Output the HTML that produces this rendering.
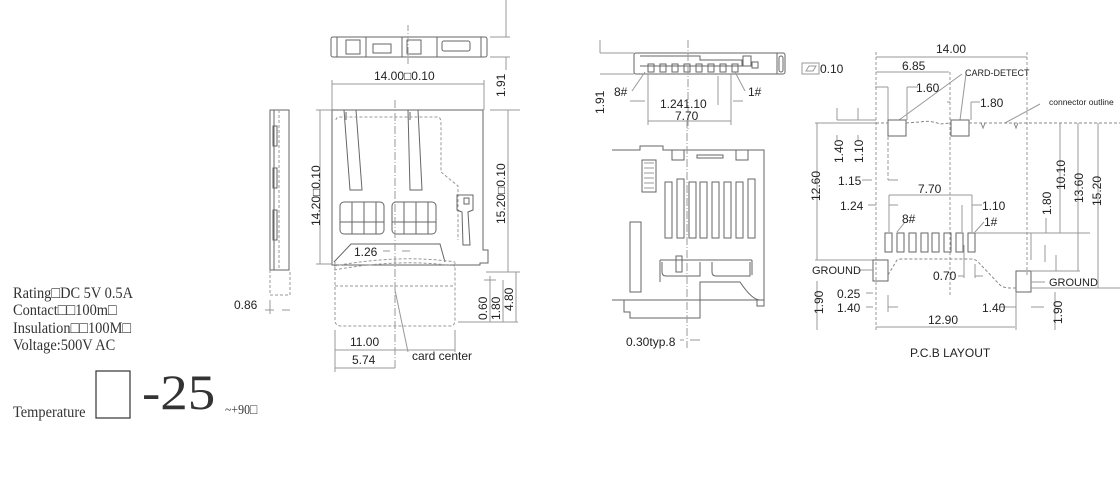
<!DOCTYPE html>
<html><head><meta charset="utf-8"><style>
html,body{margin:0;padding:0;background:#fff;}
svg{display:block}
.t{font-family:"Liberation Sans",sans-serif;font-size:12px;fill:#222}
.s{font-family:"Liberation Serif","Noto Serif CJK SC",serif;fill:#333}
</style></head><body>
<svg width="1120" height="492" viewBox="0 0 1120 492" xmlns="http://www.w3.org/2000/svg">
<g fill="none" stroke="#666" stroke-width="1">
<rect x="331" y="37" width="156" height="20" rx="2"/>
<line x1="337" y1="37" x2="337" y2="57"/><line x1="481" y1="37" x2="481" y2="57"/>
<rect x="346" y="40" width="14" height="14"/><rect x="373" y="44" width="18" height="9"/>
<rect x="407" y="40" width="14" height="14"/><rect x="442" y="41" width="28" height="10" rx="2"/>
<line x1="366" y1="37" x2="366" y2="57"/><line x1="402" y1="37" x2="402" y2="57"/><line x1="437" y1="37" x2="437" y2="57"/>
<line x1="408" y1="25" x2="408" y2="65" stroke-dasharray="6,2,1,2" stroke="#999"/>
<line x1="490" y1="37" x2="510" y2="37" stroke="#999"/><line x1="490" y1="57" x2="510" y2="57" stroke="#999"/>
<line x1="506" y1="0" x2="506" y2="37" stroke="#999"/><line x1="506" y1="57" x2="506" y2="70" stroke="#999"/>
<line x1="332" y1="84" x2="484" y2="84" stroke="#999"/>
<line x1="332" y1="80" x2="332" y2="110" stroke="#999"/><line x1="484" y1="80" x2="484" y2="110" stroke="#999"/>
<path d="M332 110 L483 110 L483 250 L488 250 L488 263 L480 263 L480 265 L332 265 Z"/>
<path d="M344 110 L350 190 L362 190 L356 110"/><path d="M408 110 L410 190 L422 190 L418 110"/>
<line x1="346" y1="112" x2="346" y2="120"/><line x1="410" y1="112" x2="410" y2="120"/>
<path d="M336 120 Q336 117 340 117 L438 117 Q441 117 441 125 L441 172 L458 186 L458 240" stroke="#999" stroke-dasharray="3,2"/>
<rect x="340" y="202" width="44" height="32" rx="4"/><rect x="392" y="202" width="44" height="32" rx="4"/>
<line x1="352" y1="202" x2="352" y2="234"/><line x1="364" y1="202" x2="364" y2="234"/><line x1="376" y1="202" x2="376" y2="234"/>
<line x1="404" y1="202" x2="404" y2="234"/><line x1="416" y1="202" x2="416" y2="234"/><line x1="428" y1="202" x2="428" y2="234"/>
<line x1="340" y1="222" x2="384" y2="222"/><line x1="392" y1="222" x2="436" y2="222"/>
<path d="M457 195 L473 195 L473 210 L468 212 L470 245 L463 245 L462 212 L457 210 Z"/>
<rect x="464" y="198" width="5" height="6"/>
<path d="M334 262 L351 244 L440 244 L445 262" />
<path d="M334 266 Q400 254 455 262" stroke="#999" stroke-dasharray="3,2"/>
<path d="M334 270 Q400 258 455 266" stroke="#999" stroke-dasharray="3,2"/>
<path d="M335 262 L335 320 Q335 326 341 326 L450 326 Q455 326 455 320 L455 262" stroke="#999" stroke-dasharray="3,2"/>
<line x1="335" y1="286" x2="455" y2="286" stroke="#999" stroke-dasharray="3,2"/>
<line x1="395" y1="100" x2="395" y2="370" stroke="#999" stroke-dasharray="8,2,1,2"/>
<line x1="320" y1="110" x2="320" y2="264" stroke="#999"/>
<line x1="316" y1="110" x2="332" y2="110" stroke="#999"/><line x1="316" y1="264" x2="332" y2="264" stroke="#999"/>
<line x1="490" y1="110" x2="520" y2="110" stroke="#999"/>
<line x1="508" y1="110" x2="508" y2="272" stroke="#999"/>
<line x1="486" y1="272" x2="520" y2="272" stroke="#999"/>
<line x1="484" y1="280" x2="496" y2="280" stroke="#999"/>
<line x1="490" y1="276" x2="490" y2="322" stroke="#999"/>
<line x1="503" y1="280" x2="503" y2="322" stroke="#999"/>
<line x1="516" y1="272" x2="516" y2="322" stroke="#999"/>
<line x1="458" y1="322" x2="518" y2="322" stroke="#999"/>
<line x1="335" y1="330" x2="335" y2="372" stroke="#999"/><line x1="455" y1="330" x2="455" y2="352" stroke="#999"/>
<line x1="335" y1="350" x2="455" y2="350" stroke="#999"/><line x1="335" y1="368" x2="395" y2="368" stroke="#999"/>
<line x1="395" y1="290" x2="408" y2="352" stroke="#999"/>
<line x1="383" y1="251" x2="390" y2="251" stroke="#999"/><line x1="402" y1="251" x2="410" y2="251" stroke="#999"/>
<rect x="270" y="110" width="19" height="160"/>
<line x1="274" y1="110" x2="274" y2="270"/>
<rect x="273" y="126" width="4" height="20"/><rect x="273" y="168" width="4" height="20"/><rect x="273" y="210" width="4" height="30"/>
<line x1="279" y1="110" x2="279" y2="270" stroke="#999" stroke-dasharray="3,2"/>
<path d="M270 270 L270 295 L290 295 L290 270" stroke="#999" stroke-dasharray="3,2"/>
<line x1="265" y1="310" x2="274" y2="310" stroke="#999"/><line x1="282" y1="310" x2="290" y2="310" stroke="#999"/>
<line x1="270" y1="300" x2="270" y2="314" stroke="#999"/>

<rect x="634" y="53" width="151" height="21" rx="2"/>
<line x1="777" y1="53" x2="777" y2="74"/><rect x="779" y="56" width="4" height="16" rx="2"/>
<path d="M640 56 L700 56 L700 60 L742 60 L742 66 L640 66"/>
<g>
<rect x="648" y="64" width="6" height="8"/><rect x="660" y="64" width="6" height="8"/><rect x="672" y="64" width="6" height="8"/><rect x="684" y="64" width="6" height="8"/>
<rect x="696" y="64" width="6" height="8"/><rect x="708" y="64" width="6" height="8"/><rect x="720" y="64" width="6" height="8"/><rect x="732" y="64" width="6" height="8"/>
</g>
<rect x="743" y="56" width="8" height="10"/><rect x="752" y="62" width="6" height="6"/>
<line x1="600" y1="53" x2="634" y2="53" stroke="#999"/><line x1="600" y1="74" x2="634" y2="74" stroke="#999"/>
<line x1="600" y1="40" x2="600" y2="53" stroke="#999"/>
<line x1="688" y1="40" x2="688" y2="130" stroke="#999" stroke-dasharray="8,2,1,2"/>
<line x1="645" y1="72" x2="632" y2="91" stroke="#999"/><line x1="735" y1="72" x2="745" y2="91" stroke="#999"/>
<line x1="648" y1="74" x2="648" y2="125" stroke="#999"/><line x1="731" y1="74" x2="731" y2="125" stroke="#999"/>
<line x1="648" y1="121" x2="731" y2="121" stroke="#999"/>
<line x1="630" y1="101" x2="645" y2="101" stroke="#999"/><line x1="733" y1="101" x2="743" y2="101" stroke="#999"/>
<line x1="718" y1="76" x2="718" y2="105" stroke="#999"/>
<rect x="802" y="63" width="17" height="11" stroke="#999"/>
<path d="M806 71 L809 66 L816 66 L813 71 Z" stroke="#999"/>
<path d="M612 150 L640 150 L640 146 L663 146 L663 150 L764 150 L764 300 L757 300 L757 306 L764 306 L764 300 M764 300 L760 300 Q752 300 740 282 L700 282 L700 300 L700 318 L630 318 L630 312 L624 312 L624 300 L612 300 Z"/>
<rect x="672" y="150" width="12" height="10"/><rect x="736" y="150" width="12" height="10"/>
<rect x="697" y="155" width="26" height="3"/>
<rect x="642" y="160" width="14" height="32"/>
<path d="M644 163 L654 163 M644 168 L654 168 M644 173 L654 173 M644 178 L654 178 M644 183 L654 183 M644 188 L654 188" stroke="#999"/>
<g>
<path d="M665 182 L672 182 L672 238 L665 238 Z"/><path d="M677 179 L684 179 L684 238 L677 238 Z"/>
<path d="M689 182 L696 182 L696 238 L689 238 Z"/><path d="M700 182 L707 182 L707 238 L700 238 Z"/>
<path d="M712 182 L719 182 L719 238 L712 238 Z"/><path d="M724 182 L731 182 L731 238 L724 238 Z"/>
<path d="M736 182 L743 182 L743 238 L736 238 Z"/><path d="M748 179 L755 179 L755 238 L748 238 Z"/>
</g>
<rect x="630" y="222" width="11" height="70"/>
<line x1="660" y1="260" x2="660" y2="282"/><line x1="660" y1="260" x2="752" y2="260"/><line x1="752" y1="260" x2="752" y2="275"/>
<rect x="676" y="256" width="6" height="16"/>
<path d="M662 262 L662 272 Q662 276 666 276 L700 276 L700 262 M712 262 L712 272 Q712 276 716 276 L750 276 L750 262"/>
<line x1="687" y1="120" x2="687" y2="348" stroke="#999" stroke-dasharray="8,2,1,2"/>
<line x1="690" y1="340" x2="700" y2="340" stroke="#999"/><line x1="680" y1="340" x2="684" y2="340" stroke="#999"/>

<line x1="876" y1="57" x2="1027" y2="57" stroke="#999"/>
<line x1="876" y1="52" x2="876" y2="330" stroke="#999" stroke-dasharray="3,2"/>
<line x1="1027" y1="52" x2="1027" y2="275" stroke="#999" stroke-dasharray="3,2"/>
<line x1="876" y1="72" x2="949" y2="72" stroke="#999"/>
<line x1="950" y1="72" x2="950" y2="295" stroke="#999" stroke-dasharray="3,2"/>
<line x1="875" y1="87" x2="888" y2="87" stroke="#999"/><line x1="888" y1="87" x2="888" y2="120" stroke="#999"/>
<line x1="907" y1="87" x2="918" y2="87" stroke="#999"/><line x1="907" y1="87" x2="907" y2="120" stroke="#999"/>
<line x1="971" y1="102" x2="980" y2="102" stroke="#999"/><line x1="971" y1="102" x2="971" y2="120" stroke="#999"/>
<line x1="947" y1="102" x2="950" y2="102" stroke="#999"/>
<path d="M899 120 L962 74 M960 120 L966 74" stroke="#999"/>
<path d="M1005 123 L1040 104" stroke="#999"/>
<rect x="888" y="120" width="18" height="16"/><rect x="951" y="120" width="18" height="16"/>
<path d="M876 123 L888 123 M906 123 L920 122 Q930 120 940 124 L951 123 M969 123 L1120 123" stroke="#888" stroke-dasharray="3,2"/>
<path d="M981 123 L983 128 L985 123 M1014 123 L1016 128 L1018 123" stroke="#888"/>
<line x1="815" y1="123" x2="876" y2="123" stroke="#999"/>
<line x1="837" y1="108" x2="837" y2="120" stroke="#999"/><line x1="858" y1="108" x2="858" y2="120" stroke="#999"/>
<line x1="837" y1="120" x2="876" y2="120" stroke="#999"/>
<line x1="837" y1="135" x2="837" y2="140" stroke="#999"/><line x1="858" y1="135" x2="858" y2="140" stroke="#999"/>
<line x1="888" y1="136" x2="888" y2="180" stroke="#999" stroke-dasharray="4,2"/>
<line x1="862" y1="180" x2="872" y2="180" stroke="#999"/><line x1="888" y1="180" x2="898" y2="180" stroke="#999"/>
<line x1="817" y1="123" x2="817" y2="260" stroke="#999"/>
<line x1="815" y1="260" x2="876" y2="260" stroke="#999"/>
<line x1="889" y1="195" x2="972" y2="195" stroke="#999"/>
<line x1="889" y1="195" x2="889" y2="232" stroke="#999"/><line x1="972" y1="195" x2="972" y2="232" stroke="#999"/>
<line x1="962" y1="205" x2="962" y2="232" stroke="#999"/>
<line x1="868" y1="205" x2="876" y2="205" stroke="#999"/><line x1="889" y1="205" x2="898" y2="205" stroke="#999"/>
<line x1="972" y1="205" x2="982" y2="205" stroke="#999"/>
<line x1="897" y1="232" x2="905" y2="222" stroke="#999"/><line x1="975" y1="232" x2="984" y2="222" stroke="#999"/>
<g>
<rect x="885" y="233" width="7" height="19"/><rect x="897" y="233" width="7" height="19"/><rect x="909" y="233" width="7" height="19"/><rect x="921" y="233" width="7" height="19"/>
<rect x="932" y="233" width="7" height="19"/><rect x="944" y="233" width="7" height="19"/><rect x="956" y="233" width="7" height="19"/><rect x="968" y="233" width="7" height="19"/>
</g>
<line x1="975" y1="233" x2="1090" y2="233" stroke="#999"/>
<rect x="873" y="260" width="15" height="21"/><rect x="1016" y="271" width="15" height="21"/>
<path d="M888 275 L897 260 Q898 259 902 259 L972 259 Q976 259 980 264 L1000 285 Q1004 288 1010 288 L1016 288" stroke="#888" stroke-dasharray="3,2"/>
<line x1="858" y1="270" x2="873" y2="270" stroke="#999"/>
<line x1="1031" y1="282" x2="1045" y2="282" stroke="#999"/>
<line x1="964" y1="245" x2="964" y2="278" stroke="#999"/><line x1="975" y1="264" x2="975" y2="278" stroke="#999"/>
<line x1="958" y1="276" x2="964" y2="276" stroke="#999"/><line x1="975" y1="276" x2="983" y2="276" stroke="#999"/>
<line x1="817" y1="281" x2="817" y2="330" stroke="#999"/>
<line x1="866" y1="293" x2="873" y2="293" stroke="#999"/><line x1="866" y1="307" x2="873" y2="307" stroke="#999"/>
<line x1="888" y1="295" x2="888" y2="312" stroke="#999"/><line x1="888" y1="307" x2="898" y2="307" stroke="#999"/>
<line x1="876" y1="327" x2="1015" y2="327" stroke="#999"/>
<line x1="1016" y1="292" x2="1016" y2="330" stroke="#999"/>
<line x1="1000" y1="307" x2="1016" y2="307" stroke="#999"/><line x1="1031" y1="307" x2="1044" y2="307" stroke="#999"/>
<line x1="1055" y1="292" x2="1055" y2="330" stroke="#999"/>
<line x1="1031" y1="233" x2="1031" y2="260" stroke="#999"/>
<line x1="1046" y1="218" x2="1046" y2="233" stroke="#999"/>
<line x1="1060" y1="123" x2="1060" y2="233" stroke="#999"/>
<line x1="1078" y1="123" x2="1078" y2="271" stroke="#999"/><line x1="1031" y1="271" x2="1080" y2="271" stroke="#999"/>
<line x1="1098" y1="123" x2="1098" y2="288" stroke="#999"/><line x1="1031" y1="288" x2="1120" y2="288" stroke="#999"/>
<line x1="1045" y1="245" x2="1045" y2="262" stroke="#999"/><line x1="1056" y1="255" x2="1056" y2="271" stroke="#999"/>
</g>

<g class="t">
<text x="374" y="80">14.00□0.10</text>
<text transform="translate(505,97) rotate(-90)">1.91</text>
<text transform="translate(320,226) rotate(-90)">14.20□0.10</text>
<text transform="translate(505,224) rotate(-90)">15.20□0.10</text>
<text x="354" y="256">1.26</text>
<text transform="translate(487,320) rotate(-90)">0.60</text>
<text transform="translate(500,320) rotate(-90)">1.80</text>
<text transform="translate(513,311) rotate(-90)">4.80</text>
<text x="350" y="346">11.00</text>
<text x="352" y="364">5.74</text>
<text x="412" y="360">card center</text>
<text x="234" y="309">0.86</text>

<text transform="translate(604,114) rotate(-90)">1.91</text>
<text x="614" y="96">8#</text>
<text x="748" y="96">1#</text>
<text x="660" y="108">1.241.10</text>
<text x="675" y="120">7.70</text>
<text x="820" y="73">0.10</text>
<text x="626" y="346">0.30typ.8</text>

<text x="936" y="53">14.00</text>
<text x="902" y="70">6.85</text>
<text x="965" y="76" font-size="9">CARD-DETECT</text>
<text x="916" y="92">1.60</text>
<text x="980" y="107">1.80</text>
<text x="1049" y="105" font-size="8.5">connector outline</text>
<text transform="translate(843,163) rotate(-90)">1.40</text>
<text transform="translate(863,163) rotate(-90)">1.10</text>
<text x="838" y="185">1.15</text>
<text transform="translate(820,201) rotate(-90)">12.60</text>
<text x="918" y="193">7.70</text>
<text x="840" y="210">1.24</text>
<text x="982" y="210">1.10</text>
<text x="902" y="223">8#</text>
<text x="984" y="226">1#</text>
<text transform="translate(1051,215) rotate(-90)">1.80</text>
<text transform="translate(1065,190) rotate(-90)">10.10</text>
<text transform="translate(1083,203) rotate(-90)">13.60</text>
<text transform="translate(1101,206) rotate(-90)">15.20</text>
<text x="812" y="274" font-size="11">GROUND</text>
<text x="1049" y="286" font-size="11">GROUND</text>
<text x="933" y="280">0.70</text>
<text x="837" y="298">0.25</text>
<text x="837" y="312">1.40</text>
<text transform="translate(823,314) rotate(-90)">1.90</text>
<text x="982" y="312">1.40</text>
<text transform="translate(1062,324) rotate(-90)">1.90</text>
<text x="928" y="324">12.90</text>
<text x="910" y="357">P.C.B LAYOUT</text>
</g>
<g class="s" font-size="16">
<text x="13" y="298" transform="translate(13,0) scale(0.9,1) translate(-13,0)">Rating□DC 5V 0.5A</text>
<text x="13" y="315" transform="translate(13,0) scale(0.9,1) translate(-13,0)">Contact□□100m□</text>
<text x="13" y="333" transform="translate(13,0) scale(0.9,1) translate(-13,0)">Insulation□□100M□</text>
<text x="13" y="350" transform="translate(13,0) scale(0.9,1) translate(-13,0)">Voltage:500V AC</text>
<text x="13" y="417" transform="translate(13,0) scale(0.9,1) translate(-13,0)">Temperature</text>
<text x="225" y="414" font-size="14" transform="translate(225,0) scale(0.85,1) translate(-225,0)">~+90□</text>
</g>
<rect x="96" y="371" width="34" height="47" fill="none" stroke="#333" stroke-width="1.2"/>
<text class="s" x="142" y="409" font-size="50" transform="translate(142,0) scale(1.1,1) translate(-142,0)">-25</text>
</svg>
</body></html>
